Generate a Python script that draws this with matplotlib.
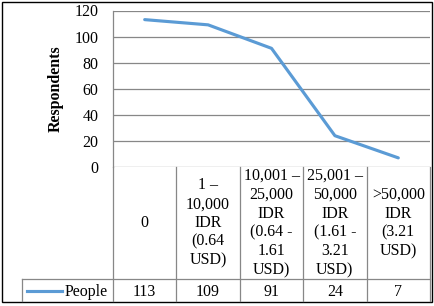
import matplotlib
matplotlib.use("Agg")
import matplotlib.pyplot as plt
from matplotlib.lines import Line2D
from matplotlib.patches import Rectangle

# data
categories = [
    "0",
    "1 –\n10,000\nIDR\n(0.64\nUSD)",
    "10,001 –\n25,000\nIDR\n(0.64 -\n1.61\nUSD)",
    "25,001 –\n50,000\nIDR\n(1.61 -\n3.21\nUSD)",
    ">50,000\nIDR\n(3.21\nUSD)",
]
people = [113, 109, 91, 24, 7]
yticks = [0, 20, 40, 60, 80, 100, 120]

W, H = 435, 306
BLUE = "#5B9BD5"
GRID = "#878787"
FS = 11.5

plt.rcParams["font.family"] = ["Liberation Serif", "DejaVu Serif"]
plt.rcParams["font.size"] = FS

fig = plt.figure(figsize=(W / 100, H / 100), dpi=100)


def fx(px):
    return px / W


def fy(py):
    # py measured from the top of the picture
    return 1 - py / H


# plot area in pixels
left, right, top, bottom = 113, 430, 10.5, 167
ax = fig.add_axes([fx(left), fy(bottom), fx(right - left), fy(top) - fy(bottom)])

xs = [i + 0.5 for i in range(len(people))]
ax.plot(xs, people, color=BLUE, lw=2.25, solid_capstyle="round", clip_on=False)

ax.set_xlim(0, len(people))
ax.set_ylim(0, 120)
ax.set_yticks(yticks)
ax.set_xticks([])
ax.tick_params(axis="y", length=0, pad=10.5, labelsize=FS)
ax.grid(axis="y", color=GRID, lw=0.9)
ax.set_axisbelow(True)
for side in ["top", "right", "bottom"]:
    ax.spines[side].set_visible(False)
ax.spines["left"].set_color(GRID)
ax.spines["left"].set_linewidth(0.9)
ax.set_ylabel("Respondents", fontweight="bold", fontsize=FS, labelpad=8)

# data table below the plot
row1_bot, tab_bot, leg_left = 279, 301, 22
tr = fig.transFigure
for i in range(len(people) + 1):
    x = left + (right - left) * i / len(people)
    fig.add_artist(Line2D([fx(x), fx(x)], [fy(bottom), fy(tab_bot)], color=GRID, lw=0.9, transform=tr))
fig.add_artist(Line2D([fx(leg_left), fx(right)], [fy(row1_bot), fy(row1_bot)], color=GRID, lw=0.9, transform=tr))
fig.add_artist(Line2D([fx(leg_left), fx(leg_left)], [fy(row1_bot), fy(tab_bot)], color=GRID, lw=0.9, transform=tr))

for i, (cat, val) in enumerate(zip(categories, people)):
    cx = left + (right - left) * (i + 0.5) / len(people)
    fig.text(fx(cx), fy((bottom + row1_bot) / 2), cat, ha="center", va="center",
             linespacing=1.23, fontsize=FS)
    fig.text(fx(cx), fy(292), str(val), ha="center", va="center", fontsize=FS)

# legend key in the table
fig.add_artist(Line2D([fx(27), fx(62)], [fy(291), fy(291)], color=BLUE, lw=2.25, transform=tr))
fig.text(fx(64.5), fy(292), "People", ha="left", va="center", fontsize=FS)

# outer border
fig.add_artist(Rectangle((fx(2), fy(302)), fx(430), fy(2) - fy(302), fill=False,
                         edgecolor="black", lw=1.0, transform=tr))

fig.savefig("out.png", dpi=100)
